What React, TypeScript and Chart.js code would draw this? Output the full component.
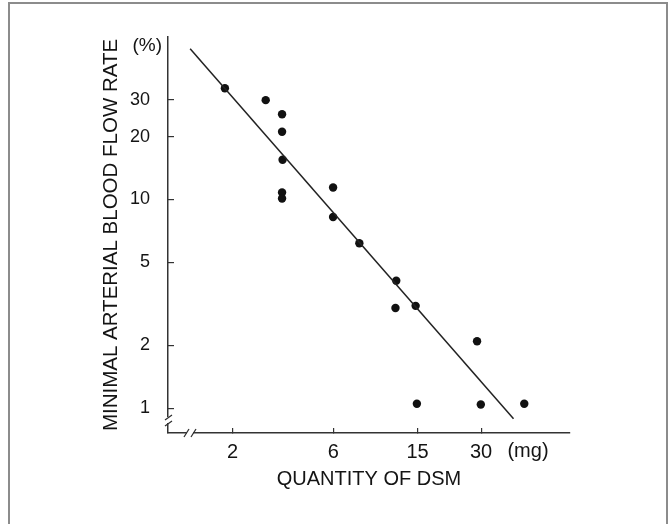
import { useEffect, useRef } from "react";
import { Chart, registerables } from "chart.js";

Chart.register(...registerables);

// ---- data (log-log plot) ----
const doseMg = [1.84, 2.87, 3.43, 3.43, 3.45, 3.43, 3.43, 5.98, 5.98, 7.96, 11.9, 11.8, 14.7, 28.7, 14.9, 29.9, 48];
const flowRate = [34.1, 29.9, 25.6, 21.1, 15.5, 10.8, 10.1, 11.4, 8.24, 6.17, 4.08, 3.02, 3.09, 2.09, 1.05, 1.04, 1.05];
const fitDose = [1.26, 42.7];
const fitRate = [52.7, 0.89];
const xTickValues = [2, 6, 15, 30];
const yTickValues = [1, 2, 5, 10, 20, 30];
const xTitle = "QUANTITY OF DSM";
const yTitle = "MINIMAL ARTERIAL BLOOD FLOW RATE";
const xUnit = "(mg)";
const yUnit = "(%)";

const FONT = '"Liberation Sans", Arial, Helvetica, sans-serif';
const INK = "#141414";

const decorPlugin = {
  id: "decor",
  beforeDraw(chart: any) {
    const { ctx, width, height } = chart;
    ctx.save();
    ctx.fillStyle = "#ffffff";
    ctx.fillRect(0, 0, width, height);
    ctx.strokeStyle = "#8c8c8c";
    ctx.lineWidth = 2;
    ctx.beginPath();
    ctx.moveTo(9, height);
    ctx.lineTo(9, 3);
    ctx.lineTo(667, 3);
    ctx.lineTo(667, height);
    ctx.stroke();
    ctx.restore();
  },
  afterDraw(chart: any) {
    const { ctx, chartArea: ca } = chart;
    const xs = chart.scales.x;
    ctx.save();
    ctx.fillStyle = INK;
    // unit labels
    ctx.font = `19px ${FONT}`;
    ctx.textAlign = "right";
    ctx.textBaseline = "middle";
    ctx.fillText(yUnit, ca.left - 6, ca.top + 9);
    ctx.font = `20px ${FONT}`;
    ctx.textAlign = "center";
    ctx.fillText(xUnit, xs.getPixelForValue(50), ca.bottom + 18);

    // axis breaks
    ctx.strokeStyle = "#ffffff";
    ctx.lineWidth = 4;
    ctx.beginPath();
    ctx.moveTo(ca.left + 19, ca.bottom);
    ctx.lineTo(ca.left + 25, ca.bottom);
    ctx.moveTo(ca.left, ca.bottom - 16);
    ctx.lineTo(ca.left, ca.bottom - 10);
    ctx.stroke();
    ctx.strokeStyle = "#333333";
    ctx.lineWidth = 1.3;
    ctx.beginPath();
    // x-axis "//"
    ctx.moveTo(ca.left + 16, ca.bottom + 4);
    ctx.lineTo(ca.left + 21, ca.bottom - 4);
    ctx.moveTo(ca.left + 23, ca.bottom + 4);
    ctx.lineTo(ca.left + 28, ca.bottom - 4);
    // y-axis "//"
    ctx.moveTo(ca.left - 3, ca.bottom - 7);
    ctx.lineTo(ca.left + 4, ca.bottom - 12);
    ctx.moveTo(ca.left - 3, ca.bottom - 13);
    ctx.lineTo(ca.left + 4, ca.bottom - 18);
    ctx.stroke();
    ctx.restore();
  },
};

export default function App() {
  const ref = useRef<HTMLCanvasElement | null>(null);

  useEffect(() => {
    if (!ref.current) return;
    const points = doseMg.map((x, i) => ({ x, y: flowRate[i] }));
    const fit = fitDose.map((x, i) => ({ x, y: fitRate[i] }));
    const chart = new Chart(ref.current, {
      type: "scatter",
      data: {
        datasets: [
          {
            type: "line",
            data: fit,
            borderColor: "#222222",
            borderWidth: 1.5,
            pointRadius: 0,
            showLine: true,
            fill: false,
          } as any,
          {
            type: "scatter",
            data: points,
            backgroundColor: "#111111",
            borderColor: "#111111",
            pointRadius: 4.2,
            borderWidth: 0,
          } as any,
        ],
      },
      options: {
        animation: false,
        responsive: true,
        maintainAspectRatio: false,
        layout: { padding: { left: 99, top: 37, right: 101, bottom: 33 } },
        plugins: {
          legend: { display: false },
          tooltip: { enabled: false },
        },
        scales: {
          x: {
            type: "logarithmic",
            position: "bottom",
            min: 0.99,
            max: 79,
            afterBuildTicks: (s: any) => {
              s.ticks = xTickValues.map((v) => ({ value: v }));
            },
            afterFit: (s: any) => {
              s.height = 58;
            },
            ticks: {
              autoSkip: false,
              maxRotation: 0,
              padding: 12,
              color: INK,
              font: { family: FONT, size: 20 },
              callback: (v: any) => String(v),
            },
            grid: { drawOnChartArea: false, tickLength: -5, color: "#333333", lineWidth: 1.2 },
            border: { color: "#333333", width: 1.5 },
            title: {
              display: true,
              text: xTitle,
              color: INK,
              font: { family: FONT, size: 20 },
              padding: 0,
            },
          },
          y: {
            type: "logarithmic",
            position: "left",
            min: 0.76,
            max: 60,
            afterBuildTicks: (s: any) => {
              s.ticks = yTickValues.map((v) => ({ value: v }));
            },
            afterFit: (s: any) => {
              s.width = 69;
            },
            ticks: {
              autoSkip: false,
              padding: 24,
              color: INK,
              font: { family: FONT, size: 18 },
              callback: (v: any) => String(v),
            },
            grid: { drawOnChartArea: false, tickLength: -6, color: "#333333", lineWidth: 1.2 },
            border: { color: "#333333", width: 1.5 },
            title: {
              display: true,
              text: yTitle,
              color: INK,
              font: { family: FONT, size: 20.5 },
              padding: 0,
            },
          },
        },
      },
      plugins: [decorPlugin],
    });
    return () => chart.destroy();
  }, []);

  return (
    <div style={{ position: "fixed", left: 0, top: 0, width: 671, height: 524, background: "#fff" }}>
      <canvas ref={ref} />
    </div>
  );
}
